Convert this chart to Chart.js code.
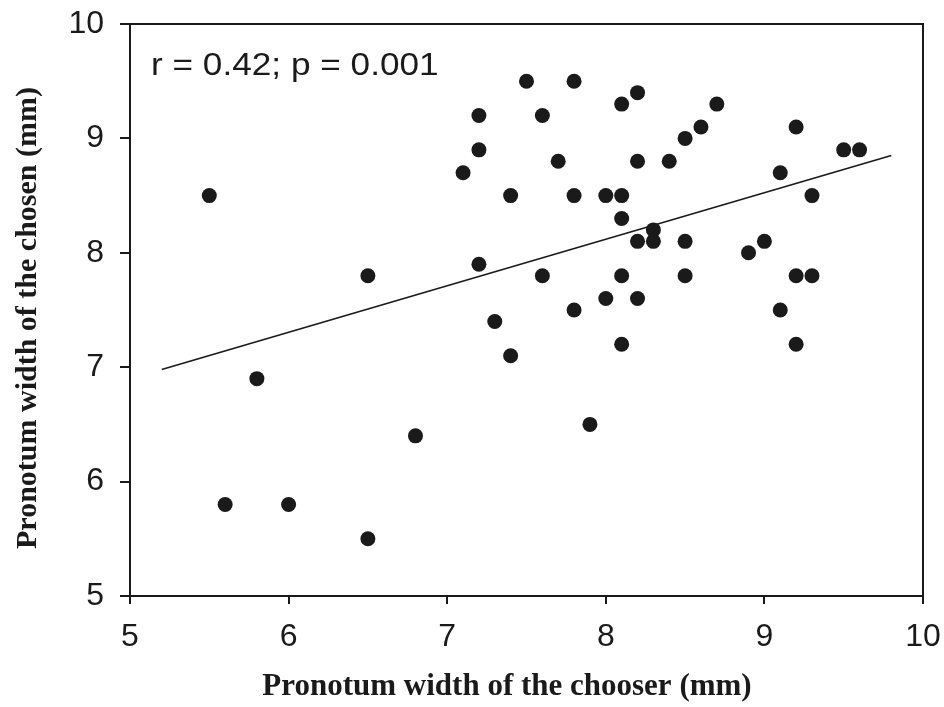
<!DOCTYPE html>
<html>
<head>
<meta charset="utf-8">
<script src="https://cdn.jsdelivr.net/npm/chart.js@4/dist/chart.umd.min.js"></script>
<style>
  html, body { margin: 0; padding: 0; background: #fff; }
  #wrap { width: 944px; height: 707px; position: relative; }
</style>
</head>
<body>
<div id="wrap"><canvas id="chart"></canvas></div>
<script>
// chooser pronotum width (mm), x
const chooserWidth = [
    5.5, 5.6, 5.8, 6.0, 6.5, 6.5, 6.8, 7.1, 7.2, 7.2, 7.2, 7.3, 7.4,
    7.4, 7.5, 7.6, 7.6, 7.7, 7.8, 7.8, 7.8, 7.9, 8.0, 8.0, 8.1, 8.1,
    8.1, 8.1, 8.1, 8.2, 8.2, 8.2, 8.2, 8.3, 8.3, 8.4, 8.5, 8.5, 8.5,
    8.6, 8.7, 8.9, 9.0, 9.1, 9.1, 9.2, 9.2, 9.2, 9.3, 9.3, 9.5, 9.6
];
// chosen pronotum width (mm), y
const chosenWidth = [
    8.5, 5.8, 6.9, 5.8, 7.8, 5.5, 6.4, 8.7, 9.2, 8.9, 7.9, 7.4, 8.5,
    7.1, 9.5, 9.2, 7.8, 8.8, 9.5, 8.5, 7.5, 6.5, 8.5, 7.6, 9.3, 8.5,
    8.3, 7.8, 7.2, 9.4, 8.8, 8.1, 7.6, 8.2, 8.1, 8.8, 9.0, 8.1, 7.8,
    9.1, 9.3, 8.0, 8.1, 8.7, 7.5, 9.1, 7.8, 7.2, 8.5, 7.8, 8.9, 8.9
];

// fitted line endpoints
const fitX = [5.2, 9.8];
const fitY = [6.98, 8.85];

const statLabel = "r = 0.42; p = 0.001";
const xTitle = "Pronotum width of the chooser (mm)";
const yTitle = "Pronotum width of the chosen (mm)";

const ink = "#1a1a1a";
const sansFont = "'Liberation Sans', Arial, sans-serif";
const serifFont = "'Liberation Serif', 'Times New Roman', serif";

/* -------------------------------------------------------
   frame, stat text and axis titles
------------------------------------------------------- */
const framePlugin = {
    id: "frame",
    afterDraw(chart) {
        const { ctx, chartArea: a } = chart;
        ctx.save();
        ctx.strokeStyle = ink;
        ctx.lineWidth = 2;
        ctx.beginPath();
        ctx.moveTo(a.left, a.top);
        ctx.lineTo(a.right, a.top);
        ctx.lineTo(a.right, a.bottom);
        ctx.stroke();

        ctx.fillStyle = ink;

        // stat text (source font runs a bit wide)
        ctx.save();
        ctx.translate(a.left + 21, a.top + 51);
        ctx.scale(1.1, 1);
        ctx.font = "32px " + sansFont;
        ctx.textAlign = "left";
        ctx.textBaseline = "alphabetic";
        ctx.fillText(statLabel, 0, 0);
        ctx.restore();

        // axis titles
        ctx.textAlign = "center";
        ctx.textBaseline = "alphabetic";
        ctx.font = "bold 31px " + serifFont;
        ctx.fillText(xTitle, 507, 695);

        ctx.save();
        ctx.translate(36, 318);
        ctx.rotate(-Math.PI / 2);
        ctx.font = "bold 30px " + serifFont;
        ctx.fillText(yTitle, 0, 0);
        ctx.restore();

        ctx.restore();
    }
};

const points = chooserWidth.map((x, i) => ({ x, y: chosenWidth[i] }));
const fitLine = fitX.map((x, i) => ({ x, y: fitY[i] }));

new Chart(document.getElementById("chart"), {
    type: "scatter",
    data: {
        datasets: [
            {
                data: points,
                backgroundColor: ink,
                borderColor: ink,
                pointRadius: 7.5,
                pointHoverRadius: 7.5,
                borderWidth: 0
            },
            {
                type: "line",
                data: fitLine,
                borderColor: ink,
                borderWidth: 1.6,
                pointRadius: 0,
                fill: false
            }
        ]
    },
    options: {
        responsive: true,
        maintainAspectRatio: false,
        animation: false,
        layout: { padding: { top: 24, right: 21, left: 0, bottom: 0 } },
        plugins: { legend: { display: false }, tooltip: { enabled: false } },
        scales: {
            x: {
                type: "linear",
                min: 5,
                max: 10,
                afterFit(scale) {
                    scale.height = 111;
                    scale.paddingLeft = 0;
                    scale.paddingRight = 0;
                },
                ticks: {
                    stepSize: 1,
                    color: ink,
                    font: { family: sansFont, size: 32 },
                    padding: 14
                },
                grid: { drawOnChartArea: false, drawTicks: true, tickLength: 8, color: ink, lineWidth: 2 },
                border: { display: true, color: ink, width: 2 }
            },
            y: {
                type: "linear",
                min: 5,
                max: 10,
                afterFit(scale) {
                    scale.width = 130;
                    scale.paddingTop = 0;
                    scale.paddingBottom = 0;
                },
                ticks: {
                    stepSize: 1,
                    color: ink,
                    font: { family: sansFont, size: 32 },
                    padding: 16
                },
                grid: { drawOnChartArea: false, drawTicks: true, tickLength: 10, color: ink, lineWidth: 2 },
                border: { display: true, color: ink, width: 2 }
            }
        }
    },
    plugins: [framePlugin]
});
</script>
</body>
</html>
